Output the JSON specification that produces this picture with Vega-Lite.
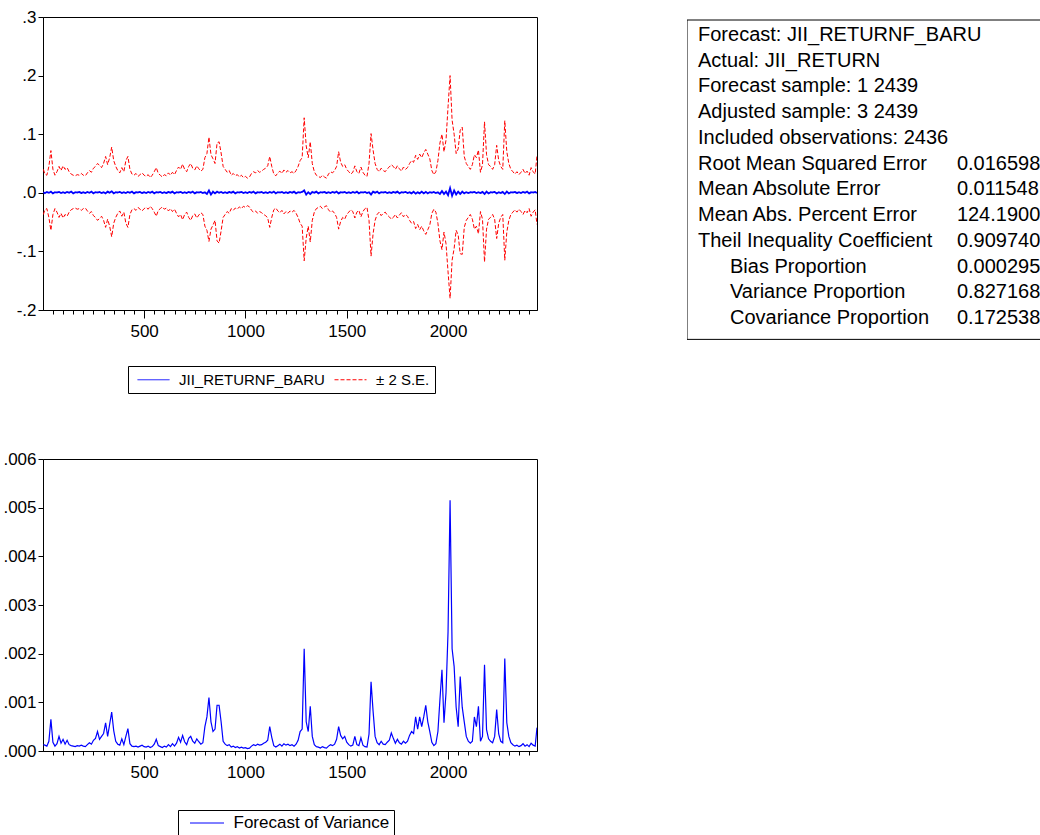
{
  "$schema": "https://vega.github.io/schema/vega-lite/v6.json",
  "background": "#ffffff",
  "padding": {"left": 2, "top": 7, "right": 0, "bottom": 0},
  "config": {
    "font": "Liberation Sans",
    "view": {"stroke": "#000000", "strokeWidth": 1},
    "axis": {"grid": false, "title": null, "labelFont": "Liberation Sans", "labelFontSize": 17, "labelColor": "#000000", "tickColor": "#000000", "domainColor": "#000000", "tickSize": 5, "labelPadding": 2, "domainWidth": 1, "tickWidth": 1, "labelFlush": false, "labelOverlap": false}
  },
  "datasets": {
    "s": [
      {"t":3,"up":0.040,"lo":-0.037,"f":0.001,"v":0.00013},
      {"t":10,"up":0.032,"lo":-0.029,"f":-0.0005,"v":0.00012},
      {"t":20,"up":0.030,"lo":-0.027,"f":0.0015,"v":0.00010},
      {"t":30,"up":0.045,"lo":-0.042,"f":0.000,"v":0.00020},
      {"t":40,"up":0.072,"lo":-0.064,"f":0.002,"v":0.00065},
      {"t":50,"up":0.040,"lo":-0.037,"f":-0.001,"v":0.00018},
      {"t":60,"up":0.030,"lo":-0.027,"f":0.001,"v":0.00010},
      {"t":70,"up":0.036,"lo":-0.033,"f":0.0005,"v":0.00015},
      {"t":80,"up":0.045,"lo":-0.042,"f":0.0015,"v":0.00030},
      {"t":90,"up":0.038,"lo":-0.035,"f":-0.0005,"v":0.00016},
      {"t":100,"up":0.046,"lo":-0.043,"f":0.001,"v":0.00024},
      {"t":110,"up":0.040,"lo":-0.037,"f":-0.0005,"v":0.00014},
      {"t":120,"up":0.043,"lo":-0.040,"f":0.0015,"v":0.00022},
      {"t":130,"up":0.036,"lo":-0.033,"f":0.000,"v":0.00013},
      {"t":140,"up":0.032,"lo":-0.029,"f":0.002,"v":0.00011},
      {"t":150,"up":0.030,"lo":-0.027,"f":-0.001,"v":0.00010},
      {"t":160,"up":0.029,"lo":-0.026,"f":0.001,"v":0.00009},
      {"t":170,"up":0.031,"lo":-0.028,"f":0.0005,"v":0.00011},
      {"t":180,"up":0.030,"lo":-0.027,"f":0.0015,"v":0.00010},
      {"t":190,"up":0.033,"lo":-0.030,"f":-0.0005,"v":0.00012},
      {"t":200,"up":0.030,"lo":-0.027,"f":0.001,"v":0.00010},
      {"t":210,"up":0.029,"lo":-0.026,"f":-0.0005,"v":0.00009},
      {"t":220,"up":0.034,"lo":-0.031,"f":0.0015,"v":0.00013},
      {"t":230,"up":0.038,"lo":-0.035,"f":0.000,"v":0.00017},
      {"t":240,"up":0.035,"lo":-0.032,"f":0.002,"v":0.00014},
      {"t":250,"up":0.042,"lo":-0.039,"f":-0.001,"v":0.00022},
      {"t":260,"up":0.045,"lo":-0.042,"f":0.001,"v":0.00026},
      {"t":270,"up":0.050,"lo":-0.047,"f":0.0005,"v":0.00040},
      {"t":280,"up":0.047,"lo":-0.044,"f":0.0015,"v":0.00024},
      {"t":290,"up":0.043,"lo":-0.040,"f":-0.0005,"v":0.00030},
      {"t":300,"up":0.050,"lo":-0.047,"f":0.001,"v":0.00036},
      {"t":310,"up":0.062,"lo":-0.059,"f":-0.001,"v":0.00058},
      {"t":320,"up":0.048,"lo":-0.045,"f":0.002,"v":0.00030},
      {"t":330,"up":0.060,"lo":-0.057,"f":0.000,"v":0.00055},
      {"t":340,"up":0.078,"lo":-0.075,"f":0.0025,"v":0.00080},
      {"t":350,"up":0.055,"lo":-0.052,"f":-0.001,"v":0.00042},
      {"t":360,"up":0.045,"lo":-0.042,"f":0.001,"v":0.00020},
      {"t":370,"up":0.038,"lo":-0.035,"f":0.0005,"v":0.00014},
      {"t":380,"up":0.034,"lo":-0.031,"f":0.0015,"v":0.00012},
      {"t":390,"up":0.043,"lo":-0.040,"f":-0.0005,"v":0.00025},
      {"t":400,"up":0.036,"lo":-0.033,"f":0.001,"v":0.00013},
      {"t":410,"up":0.055,"lo":-0.052,"f":-0.0005,"v":0.00030},
      {"t":420,"up":0.062,"lo":-0.059,"f":0.0015,"v":0.00046},
      {"t":430,"up":0.040,"lo":-0.037,"f":0.000,"v":0.00015},
      {"t":440,"up":0.032,"lo":-0.029,"f":0.002,"v":0.00010},
      {"t":450,"up":0.030,"lo":-0.027,"f":-0.001,"v":0.00009},
      {"t":460,"up":0.033,"lo":-0.030,"f":0.001,"v":0.00010},
      {"t":470,"up":0.028,"lo":-0.025,"f":0.0005,"v":0.00008},
      {"t":480,"up":0.031,"lo":-0.028,"f":0.0015,"v":0.00010},
      {"t":490,"up":0.034,"lo":-0.031,"f":-0.0005,"v":0.00012},
      {"t":500,"up":0.030,"lo":-0.027,"f":0.001,"v":0.00009},
      {"t":510,"up":0.028,"lo":-0.025,"f":-0.0005,"v":0.00008},
      {"t":520,"up":0.031,"lo":-0.028,"f":0.0015,"v":0.00010},
      {"t":530,"up":0.026,"lo":-0.023,"f":0.000,"v":0.00007},
      {"t":540,"up":0.030,"lo":-0.027,"f":0.002,"v":0.00009},
      {"t":550,"up":0.036,"lo":-0.033,"f":-0.001,"v":0.00014},
      {"t":560,"up":0.043,"lo":-0.040,"f":0.001,"v":0.00024},
      {"t":570,"up":0.033,"lo":-0.030,"f":0.0005,"v":0.00011},
      {"t":580,"up":0.030,"lo":-0.027,"f":0.0015,"v":0.00009},
      {"t":590,"up":0.027,"lo":-0.024,"f":-0.0005,"v":0.00007},
      {"t":600,"up":0.031,"lo":-0.028,"f":0.001,"v":0.00010},
      {"t":610,"up":0.029,"lo":-0.026,"f":-0.0005,"v":0.00008},
      {"t":620,"up":0.034,"lo":-0.031,"f":0.0015,"v":0.00013},
      {"t":630,"up":0.030,"lo":-0.027,"f":0.000,"v":0.00009},
      {"t":640,"up":0.035,"lo":-0.032,"f":0.002,"v":0.00015},
      {"t":650,"up":0.031,"lo":-0.028,"f":-0.001,"v":0.00010},
      {"t":660,"up":0.038,"lo":-0.035,"f":0.001,"v":0.00016},
      {"t":670,"up":0.044,"lo":-0.041,"f":0.0005,"v":0.00028},
      {"t":680,"up":0.040,"lo":-0.037,"f":0.0015,"v":0.00018},
      {"t":690,"up":0.049,"lo":-0.046,"f":-0.0005,"v":0.00032},
      {"t":700,"up":0.040,"lo":-0.037,"f":0.001,"v":0.00019},
      {"t":710,"up":0.036,"lo":-0.033,"f":-0.0005,"v":0.00013},
      {"t":720,"up":0.045,"lo":-0.042,"f":0.0015,"v":0.00026},
      {"t":730,"up":0.050,"lo":-0.047,"f":0.000,"v":0.00030},
      {"t":740,"up":0.042,"lo":-0.039,"f":0.002,"v":0.00020},
      {"t":750,"up":0.039,"lo":-0.036,"f":-0.001,"v":0.00016},
      {"t":760,"up":0.046,"lo":-0.043,"f":0.001,"v":0.00025},
      {"t":770,"up":0.041,"lo":-0.038,"f":0.0005,"v":0.00019},
      {"t":780,"up":0.037,"lo":-0.034,"f":0.0015,"v":0.00014},
      {"t":790,"up":0.040,"lo":-0.037,"f":-0.0005,"v":0.00017},
      {"t":800,"up":0.060,"lo":-0.057,"f":0.001,"v":0.00050},
      {"t":810,"up":0.067,"lo":-0.064,"f":-0.002,"v":0.00070},
      {"t":820,"up":0.095,"lo":-0.083,"f":0.004,"v":0.00110},
      {"t":830,"up":0.065,"lo":-0.062,"f":-0.003,"v":0.00060},
      {"t":840,"up":0.058,"lo":-0.055,"f":0.002,"v":0.00040},
      {"t":850,"up":0.050,"lo":-0.047,"f":-0.001,"v":0.00045},
      {"t":860,"up":0.085,"lo":-0.082,"f":0.002,"v":0.00094},
      {"t":870,"up":0.087,"lo":-0.086,"f":0.000,"v":0.00094},
      {"t":880,"up":0.068,"lo":-0.065,"f":0.0015,"v":0.00060},
      {"t":890,"up":0.045,"lo":-0.042,"f":-0.0005,"v":0.00020},
      {"t":900,"up":0.040,"lo":-0.037,"f":0.001,"v":0.00014},
      {"t":910,"up":0.035,"lo":-0.032,"f":-0.0005,"v":0.00011},
      {"t":920,"up":0.038,"lo":-0.035,"f":0.0015,"v":0.00013},
      {"t":930,"up":0.030,"lo":-0.027,"f":0.000,"v":0.00008},
      {"t":940,"up":0.033,"lo":-0.030,"f":0.002,"v":0.00010},
      {"t":950,"up":0.029,"lo":-0.026,"f":-0.001,"v":0.00007},
      {"t":960,"up":0.031,"lo":-0.028,"f":0.001,"v":0.00009},
      {"t":970,"up":0.027,"lo":-0.024,"f":0.0005,"v":0.00006},
      {"t":980,"up":0.030,"lo":-0.027,"f":0.0015,"v":0.00008},
      {"t":990,"up":0.026,"lo":-0.023,"f":-0.0005,"v":0.00006},
      {"t":1000,"up":0.028,"lo":-0.025,"f":0.001,"v":0.00007},
      {"t":1010,"up":0.025,"lo":-0.022,"f":-0.0005,"v":0.00005},
      {"t":1020,"up":0.027,"lo":-0.024,"f":0.0015,"v":0.00006},
      {"t":1030,"up":0.033,"lo":-0.030,"f":0.000,"v":0.00010},
      {"t":1040,"up":0.036,"lo":-0.033,"f":0.002,"v":0.00013},
      {"t":1050,"up":0.034,"lo":-0.031,"f":-0.001,"v":0.00011},
      {"t":1060,"up":0.038,"lo":-0.035,"f":0.001,"v":0.00014},
      {"t":1070,"up":0.035,"lo":-0.032,"f":0.0005,"v":0.00012},
      {"t":1080,"up":0.037,"lo":-0.034,"f":0.0015,"v":0.00013},
      {"t":1090,"up":0.040,"lo":-0.037,"f":-0.0005,"v":0.00016},
      {"t":1100,"up":0.042,"lo":-0.039,"f":0.001,"v":0.00018},
      {"t":1110,"up":0.046,"lo":-0.043,"f":-0.0005,"v":0.00022},
      {"t":1120,"up":0.062,"lo":-0.059,"f":0.0015,"v":0.00050},
      {"t":1130,"up":0.045,"lo":-0.042,"f":0.000,"v":0.00028},
      {"t":1140,"up":0.032,"lo":-0.029,"f":0.002,"v":0.00011},
      {"t":1150,"up":0.029,"lo":-0.026,"f":-0.001,"v":0.00008},
      {"t":1160,"up":0.034,"lo":-0.031,"f":0.001,"v":0.00011},
      {"t":1170,"up":0.037,"lo":-0.034,"f":0.0005,"v":0.00014},
      {"t":1180,"up":0.033,"lo":-0.030,"f":0.0015,"v":0.00010},
      {"t":1190,"up":0.039,"lo":-0.036,"f":-0.0005,"v":0.00015},
      {"t":1200,"up":0.035,"lo":-0.032,"f":0.001,"v":0.00012},
      {"t":1210,"up":0.038,"lo":-0.035,"f":-0.0005,"v":0.00014},
      {"t":1220,"up":0.034,"lo":-0.031,"f":0.0015,"v":0.00011},
      {"t":1230,"up":0.036,"lo":-0.033,"f":0.000,"v":0.00013},
      {"t":1240,"up":0.033,"lo":-0.030,"f":0.002,"v":0.00010},
      {"t":1250,"up":0.038,"lo":-0.035,"f":-0.001,"v":0.00014},
      {"t":1260,"up":0.045,"lo":-0.042,"f":0.001,"v":0.00022},
      {"t":1270,"up":0.055,"lo":-0.052,"f":0.0005,"v":0.00040},
      {"t":1280,"up":0.060,"lo":-0.057,"f":0.0015,"v":0.00045},
      {"t":1290,"up":0.128,"lo":-0.116,"f":0.004,"v":0.00210},
      {"t":1300,"up":0.080,"lo":-0.077,"f":-0.003,"v":0.00060},
      {"t":1310,"up":0.060,"lo":-0.057,"f":0.001,"v":0.00040},
      {"t":1320,"up":0.087,"lo":-0.084,"f":-0.002,"v":0.00092},
      {"t":1330,"up":0.050,"lo":-0.047,"f":0.0015,"v":0.00030},
      {"t":1340,"up":0.036,"lo":-0.033,"f":0.000,"v":0.00013},
      {"t":1350,"up":0.030,"lo":-0.027,"f":0.002,"v":0.00009},
      {"t":1360,"up":0.028,"lo":-0.025,"f":-0.001,"v":0.00008},
      {"t":1370,"up":0.026,"lo":-0.023,"f":0.001,"v":0.00006},
      {"t":1380,"up":0.030,"lo":-0.027,"f":0.0005,"v":0.00009},
      {"t":1390,"up":0.027,"lo":-0.024,"f":0.0015,"v":0.00007},
      {"t":1400,"up":0.025,"lo":-0.022,"f":-0.0005,"v":0.00006},
      {"t":1410,"up":0.032,"lo":-0.029,"f":0.001,"v":0.00010},
      {"t":1420,"up":0.036,"lo":-0.033,"f":-0.0005,"v":0.00013},
      {"t":1430,"up":0.034,"lo":-0.031,"f":0.0015,"v":0.00011},
      {"t":1440,"up":0.038,"lo":-0.035,"f":0.000,"v":0.00014},
      {"t":1450,"up":0.045,"lo":-0.042,"f":0.002,"v":0.00024},
      {"t":1460,"up":0.070,"lo":-0.062,"f":-0.001,"v":0.00050},
      {"t":1470,"up":0.052,"lo":-0.049,"f":0.001,"v":0.00032},
      {"t":1480,"up":0.045,"lo":-0.042,"f":0.0005,"v":0.00025},
      {"t":1490,"up":0.048,"lo":-0.045,"f":0.0015,"v":0.00030},
      {"t":1500,"up":0.040,"lo":-0.037,"f":-0.0005,"v":0.00018},
      {"t":1510,"up":0.036,"lo":-0.033,"f":0.001,"v":0.00013},
      {"t":1520,"up":0.032,"lo":-0.029,"f":-0.0005,"v":0.00010},
      {"t":1530,"up":0.035,"lo":-0.032,"f":0.0015,"v":0.00012},
      {"t":1540,"up":0.046,"lo":-0.043,"f":0.000,"v":0.00030},
      {"t":1550,"up":0.036,"lo":-0.033,"f":0.002,"v":0.00013},
      {"t":1560,"up":0.033,"lo":-0.030,"f":-0.001,"v":0.00011},
      {"t":1570,"up":0.044,"lo":-0.041,"f":0.001,"v":0.00027},
      {"t":1580,"up":0.035,"lo":-0.032,"f":0.0005,"v":0.00012},
      {"t":1590,"up":0.030,"lo":-0.027,"f":0.0015,"v":0.00009},
      {"t":1600,"up":0.028,"lo":-0.025,"f":-0.0005,"v":0.00008},
      {"t":1610,"up":0.050,"lo":-0.047,"f":0.001,"v":0.00035},
      {"t":1620,"up":0.101,"lo":-0.108,"f":-0.003,"v":0.00142},
      {"t":1630,"up":0.073,"lo":-0.070,"f":0.002,"v":0.00082},
      {"t":1640,"up":0.050,"lo":-0.047,"f":0.000,"v":0.00030},
      {"t":1650,"up":0.040,"lo":-0.037,"f":0.002,"v":0.00017},
      {"t":1660,"up":0.036,"lo":-0.033,"f":-0.001,"v":0.00013},
      {"t":1670,"up":0.042,"lo":-0.039,"f":0.001,"v":0.00020},
      {"t":1680,"up":0.038,"lo":-0.035,"f":0.0005,"v":0.00014},
      {"t":1690,"up":0.036,"lo":-0.033,"f":0.0015,"v":0.00013},
      {"t":1700,"up":0.041,"lo":-0.038,"f":-0.0005,"v":0.00018},
      {"t":1710,"up":0.044,"lo":-0.041,"f":0.001,"v":0.00022},
      {"t":1720,"up":0.048,"lo":-0.045,"f":-0.0005,"v":0.00037},
      {"t":1730,"up":0.045,"lo":-0.042,"f":0.0015,"v":0.00026},
      {"t":1740,"up":0.040,"lo":-0.037,"f":0.000,"v":0.00016},
      {"t":1750,"up":0.046,"lo":-0.043,"f":0.002,"v":0.00024},
      {"t":1760,"up":0.041,"lo":-0.038,"f":-0.001,"v":0.00017},
      {"t":1770,"up":0.037,"lo":-0.034,"f":0.001,"v":0.00014},
      {"t":1780,"up":0.044,"lo":-0.041,"f":0.0005,"v":0.00020},
      {"t":1790,"up":0.040,"lo":-0.037,"f":0.0015,"v":0.00016},
      {"t":1800,"up":0.043,"lo":-0.040,"f":-0.0005,"v":0.00020},
      {"t":1810,"up":0.050,"lo":-0.047,"f":0.001,"v":0.00032},
      {"t":1820,"up":0.055,"lo":-0.052,"f":-0.001,"v":0.00040},
      {"t":1830,"up":0.052,"lo":-0.049,"f":0.002,"v":0.00036},
      {"t":1840,"up":0.064,"lo":-0.061,"f":-0.0015,"v":0.00070},
      {"t":1850,"up":0.057,"lo":-0.054,"f":0.001,"v":0.00045},
      {"t":1860,"up":0.066,"lo":-0.063,"f":-0.001,"v":0.00070},
      {"t":1870,"up":0.060,"lo":-0.057,"f":0.002,"v":0.00050},
      {"t":1880,"up":0.068,"lo":-0.065,"f":-0.001,"v":0.00070},
      {"t":1890,"up":0.074,"lo":-0.071,"f":0.0015,"v":0.00094},
      {"t":1900,"up":0.066,"lo":-0.063,"f":-0.001,"v":0.00060},
      {"t":1910,"up":0.058,"lo":-0.055,"f":0.001,"v":0.00040},
      {"t":1920,"up":0.038,"lo":-0.035,"f":0.000,"v":0.00018},
      {"t":1930,"up":0.031,"lo":-0.028,"f":0.0015,"v":0.00011},
      {"t":1940,"up":0.036,"lo":-0.033,"f":-0.0005,"v":0.00015},
      {"t":1950,"up":0.055,"lo":-0.052,"f":0.001,"v":0.00040},
      {"t":1960,"up":0.085,"lo":-0.082,"f":-0.002,"v":0.00106},
      {"t":1970,"up":0.100,"lo":-0.097,"f":0.003,"v":0.00167},
      {"t":1980,"up":0.070,"lo":-0.067,"f":-0.002,"v":0.00058},
      {"t":1990,"up":0.090,"lo":-0.087,"f":0.002,"v":0.00120},
      {"t":2000,"up":0.147,"lo":-0.135,"f":-0.004,"v":0.00245},
      {"t":2010,"up":0.200,"lo":-0.180,"f":0.008,"v":0.00515},
      {"t":2020,"up":0.124,"lo":-0.115,"f":-0.005,"v":0.00210},
      {"t":2030,"up":0.100,"lo":-0.095,"f":0.004,"v":0.00174},
      {"t":2040,"up":0.067,"lo":-0.064,"f":-0.003,"v":0.00090},
      {"t":2050,"up":0.075,"lo":-0.072,"f":0.002,"v":0.00050},
      {"t":2060,"up":0.107,"lo":-0.104,"f":-0.002,"v":0.00153},
      {"t":2070,"up":0.112,"lo":-0.105,"f":0.002,"v":0.00090},
      {"t":2080,"up":0.062,"lo":-0.059,"f":-0.001,"v":0.00060},
      {"t":2090,"up":0.050,"lo":-0.047,"f":0.001,"v":0.00030},
      {"t":2100,"up":0.045,"lo":-0.042,"f":-0.0005,"v":0.00020},
      {"t":2110,"up":0.040,"lo":-0.037,"f":0.001,"v":0.00016},
      {"t":2120,"up":0.048,"lo":-0.045,"f":0.0005,"v":0.00020},
      {"t":2130,"up":0.065,"lo":-0.062,"f":0.0015,"v":0.00070},
      {"t":2140,"up":0.060,"lo":-0.057,"f":-0.0005,"v":0.00050},
      {"t":2150,"up":0.073,"lo":-0.070,"f":0.001,"v":0.00092},
      {"t":2160,"up":0.035,"lo":-0.032,"f":-0.0005,"v":0.00020},
      {"t":2170,"up":0.048,"lo":-0.045,"f":0.0015,"v":0.00030},
      {"t":2180,"up":0.121,"lo":-0.118,"f":-0.002,"v":0.00177},
      {"t":2190,"up":0.065,"lo":-0.062,"f":0.002,"v":0.00044},
      {"t":2200,"up":0.048,"lo":-0.045,"f":-0.001,"v":0.00025},
      {"t":2210,"up":0.045,"lo":-0.042,"f":0.001,"v":0.00020},
      {"t":2220,"up":0.040,"lo":-0.037,"f":0.0005,"v":0.00017},
      {"t":2230,"up":0.048,"lo":-0.045,"f":0.0015,"v":0.00030},
      {"t":2240,"up":0.081,"lo":-0.078,"f":-0.001,"v":0.00085},
      {"t":2250,"up":0.055,"lo":-0.052,"f":0.001,"v":0.00035},
      {"t":2260,"up":0.045,"lo":-0.042,"f":-0.0005,"v":0.00020},
      {"t":2270,"up":0.040,"lo":-0.037,"f":0.0015,"v":0.00017},
      {"t":2280,"up":0.123,"lo":-0.115,"f":-0.002,"v":0.00190},
      {"t":2290,"up":0.070,"lo":-0.067,"f":0.002,"v":0.00058},
      {"t":2300,"up":0.050,"lo":-0.047,"f":-0.001,"v":0.00030},
      {"t":2310,"up":0.040,"lo":-0.037,"f":0.001,"v":0.00017},
      {"t":2320,"up":0.036,"lo":-0.033,"f":0.0005,"v":0.00013},
      {"t":2330,"up":0.032,"lo":-0.029,"f":0.0015,"v":0.00010},
      {"t":2340,"up":0.036,"lo":-0.033,"f":-0.0005,"v":0.00012},
      {"t":2350,"up":0.031,"lo":-0.028,"f":0.001,"v":0.00009},
      {"t":2360,"up":0.035,"lo":-0.032,"f":-0.0005,"v":0.00011},
      {"t":2370,"up":0.040,"lo":-0.037,"f":0.0015,"v":0.00015},
      {"t":2380,"up":0.033,"lo":-0.030,"f":0.000,"v":0.00010},
      {"t":2390,"up":0.037,"lo":-0.034,"f":0.002,"v":0.00013},
      {"t":2400,"up":0.030,"lo":-0.027,"f":-0.001,"v":0.00009},
      {"t":2410,"up":0.043,"lo":-0.040,"f":0.001,"v":0.00016},
      {"t":2420,"up":0.036,"lo":-0.033,"f":0.0005,"v":0.00012},
      {"t":2430,"up":0.032,"lo":-0.029,"f":0.0015,"v":0.00010},
      {"t":2439,"up":0.064,"lo":-0.054,"f":-0.0005,"v":0.00048}
    ],
    "tbl": [
      {"r":1,"lvl":0,"label":"Forecast: JII_RETURNF_BARU","val":""},
      {"r":2,"lvl":0,"label":"Actual: JII_RETURN","val":""},
      {"r":3,"lvl":0,"label":"Forecast sample: 1 2439","val":""},
      {"r":4,"lvl":0,"label":"Adjusted sample: 3 2439","val":""},
      {"r":5,"lvl":0,"label":"Included observations: 2436","val":""},
      {"r":6,"lvl":0,"label":"Root Mean Squared Error","val":"0.016598"},
      {"r":7,"lvl":0,"label":"Mean Absolute Error","val":"0.011548"},
      {"r":8,"lvl":0,"label":"Mean Abs. Percent Error","val":"124.1900"},
      {"r":9,"lvl":0,"label":"Theil Inequality Coefficient","val":"0.909740"},
      {"r":10,"lvl":1,"label":"Bias Proportion","val":"0.000295"},
      {"r":11,"lvl":1,"label":"Variance Proportion","val":"0.827168"},
      {"r":12,"lvl":1,"label":"Covariance Proportion","val":"0.172538"}
    ]
  },
  "spacing": 149,
  "resolve": {"scale": {"color": "independent", "strokeDash": "independent"}},
  "hconcat": [
    {
      "bounds": "flush",
      "spacing": 149,
      "resolve": {"scale": {"color": "independent", "strokeDash": "independent"}, "legend": {"color": "independent", "strokeDash": "independent"}},
      "vconcat": [
        {
          "width": 494,
          "height": 293,
          "data": {"name": "s"},
          "encoding": {
            "x": {"field": "t", "type": "quantitative",
              "scale": {"domain": [1, 2439], "nice": false, "zero": false},
              "axis": {"values": [50,100,150,200,250,300,350,400,450,500,550,600,650,700,750,800,850,900,950,1000,1050,1100,1150,1200,1250,1300,1350,1400,1450,1500,1550,1600,1650,1700,1750,1800,1850,1900,1950,2000,2050,2100,2150,2200,2250,2300,2350,2400],
                "format": "d", "labelExpr": "datum.value % 500 === 0 ? datum.label : ''", "labelPadding": 5,
                "tickSize": {"condition": {"test": "datum.value % 500 === 0", "value": 8}, "value": 4}}}
          },
          "layer": [
            {
              "mark": {"type": "line", "strokeWidth": 1, "clip": true},
              "encoding": {
                "y": {"field": "up", "type": "quantitative",
                  "scale": {"domain": [-0.2, 0.3], "nice": false, "zero": false},
                  "axis": {"values": [-0.2, -0.1, 0, 0.1, 0.2, 0.3], "labelExpr": "replace(replace(format(datum.value, '.1f'), '0.', '.'), '\u2212', '-')"}},
                "color": {"datum": "± 2 S.E.",
                  "scale": {"domain": ["JII_RETURNF_BARU", "± 2 S.E."], "range": ["#0000ff", "#ff0000"]},
                  "legend": {"orient": "none", "legendX": 85, "legendY": 349, "direction": "horizontal", "title": null, "strokeColor": "#000000", "fillColor": "#ffffff", "padding": 5, "symbolOffset": 12, "symbolType": "M-2,0H2", "symbolSize": 256, "symbolStrokeWidth": 1, "labelFontSize": 15, "labelFont": "Liberation Sans", "labelColor": "#000000", "labelOffset": 17, "labelLimit": 300, "columnPadding": 5}},
                "strokeDash": {"datum": "± 2 S.E.",
                  "scale": {"domain": ["JII_RETURNF_BARU", "± 2 S.E."], "range": [[1, 0], [4, 2]]},
                  "legend": {"orient": "none", "legendX": 85, "legendY": 349, "direction": "horizontal", "title": null, "strokeColor": "#000000", "fillColor": "#ffffff", "padding": 5, "symbolOffset": 12, "symbolType": "M-2,0H2", "symbolSize": 256, "symbolStrokeWidth": 1, "labelFontSize": 15, "labelFont": "Liberation Sans", "labelColor": "#000000", "labelOffset": 17, "labelLimit": 300, "columnPadding": 5}}
              }
            },
            {
              "mark": {"type": "line", "strokeWidth": 1, "clip": true},
              "encoding": {
                "y": {"field": "lo", "type": "quantitative"},
                "color": {"datum": "± 2 S.E."},
                "strokeDash": {"datum": "± 2 S.E."}
              }
            },
            {
              "mark": {"type": "line", "strokeWidth": 1.8, "clip": true},
              "encoding": {
                "y": {"field": "f", "type": "quantitative"},
                "color": {"datum": "JII_RETURNF_BARU"},
                "strokeDash": {"datum": "JII_RETURNF_BARU"}
              }
            }
          ]
        },
        {
          "width": 494,
          "height": 292,
          "data": {"name": "s"},
          "mark": {"type": "line", "strokeWidth": 1.2, "clip": true},
          "encoding": {
            "x": {"field": "t", "type": "quantitative",
              "scale": {"domain": [1, 2439], "nice": false, "zero": false},
              "axis": {"values": [50,100,150,200,250,300,350,400,450,500,550,600,650,700,750,800,850,900,950,1000,1050,1100,1150,1200,1250,1300,1350,1400,1450,1500,1550,1600,1650,1700,1750,1800,1850,1900,1950,2000,2050,2100,2150,2200,2250,2300,2350,2400],
                "format": "d", "labelExpr": "datum.value % 500 === 0 ? datum.label : ''", "labelPadding": 5,
                "tickSize": {"condition": {"test": "datum.value % 500 === 0", "value": 8}, "value": 4}}},
            "y": {"field": "v", "type": "quantitative",
              "scale": {"domain": [0, 0.006], "nice": false, "zero": false},
              "axis": {"values": [0, 0.001, 0.002, 0.003, 0.004, 0.005, 0.006], "labelExpr": "replace(format(datum.value, '.3f'), '0.', '.')"}},
            "color": {"datum": "Forecast of Variance",
              "scale": {"domain": ["Forecast of Variance"], "range": ["#0000ff"]},
              "legend": {"orient": "none", "legendX": 135, "legendY": 351, "direction": "horizontal", "title": null, "strokeColor": "#000000", "fillColor": "#ffffff", "padding": 4, "symbolOffset": 16, "symbolType": "M-2,0H2", "symbolSize": 289, "symbolStrokeWidth": 1, "labelFontSize": 17, "labelFont": "Liberation Sans", "labelColor": "#000000", "labelOffset": 17.5, "labelLimit": 300}}
          }
        }
      ]
    },
    {
      "width": 354,
      "height": 323,
      "view": {"stroke": "transparent", "strokeWidth": 0},
      "layer": [
        {
          "data": {"values": [{"box": "table"}]},
          "mark": {"type": "rect", "filled": false, "stroke": "#000000", "strokeWidth": 1, "clip": true},
          "encoding": {
            "x": {"datum": -0.344, "type": "quantitative", "scale": {"domain": [-0.344, 10.719], "nice": false, "zero": false}, "axis": null},
            "x2": {"datum": 12},
            "y": {"datum": 0.417, "type": "quantitative", "scale": {"domain": [0.3, 12.854], "nice": false, "zero": false, "reverse": true}, "axis": null},
            "y2": {"datum": 12.83}
          }
        },
        {
          "data": {"name": "tbl"},
          "mark": {"type": "text", "align": "left", "baseline": "middle", "font": "Liberation Sans", "fontSize": 20, "color": "#000000"},
          "encoding": {
            "x": {"field": "lvl", "type": "quantitative"},
            "y": {"field": "r", "type": "quantitative"},
            "text": {"field": "label"}
          }
        },
        {
          "data": {"name": "tbl"},
          "mark": {"type": "text", "align": "left", "baseline": "middle", "font": "Liberation Sans", "fontSize": 20, "color": "#000000", "clip": true},
          "encoding": {
            "x": {"datum": 8.09, "type": "quantitative"},
            "y": {"field": "r", "type": "quantitative"},
            "text": {"field": "val"}
          }
        }
      ]
    }
  ]
}
